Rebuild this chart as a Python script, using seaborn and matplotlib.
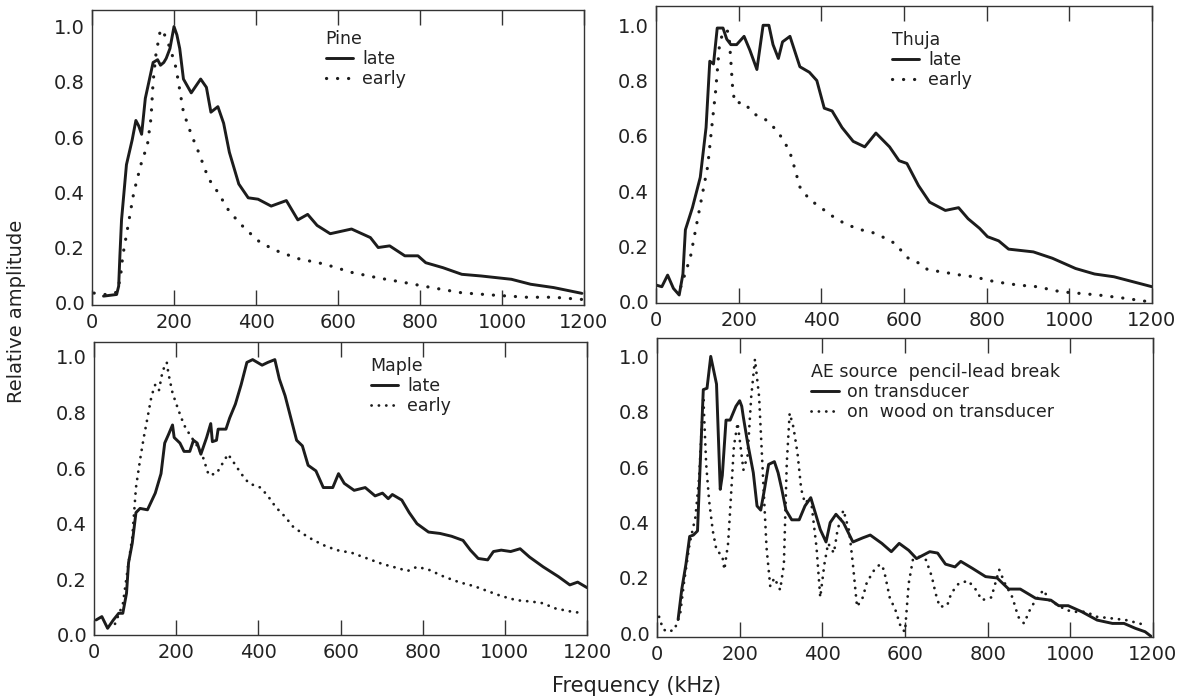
import seaborn as sns
import matplotlib.pyplot as plt
from matplotlib.lines import Line2D

# ---- data (frequency in kHz, relative amplitude) ----
pine_late_f = [28, 60, 65, 68, 72, 84, 98, 107, 114, 121, 130, 149, 160, 167, 175, 181, 190, 200, 207,
               214, 223, 242, 265, 279, 290, 307, 321, 335, 358, 381, 405, 437, 474, 502, 526, 549, 581,
               633, 679, 698, 726, 763, 795, 814, 856, 902, 949, 1023, 1070, 1126, 1195]
pine_late_a = [0.024, 0.03, 0.06, 0.17, 0.3, 0.5, 0.59, 0.66, 0.64, 0.61, 0.74, 0.87, 0.88, 0.86, 0.87,
               0.885, 0.92, 1.0, 0.97, 0.92, 0.81, 0.76, 0.81, 0.78, 0.69, 0.71, 0.65, 0.545, 0.43, 0.38,
               0.375, 0.35, 0.37, 0.30, 0.32, 0.28, 0.25, 0.267, 0.236, 0.20, 0.206, 0.17, 0.17, 0.145,
               0.127, 0.103, 0.097, 0.085, 0.067, 0.055, 0.034]
pine_early_f = [5, 28, 47, 62, 70, 75, 88, 102, 121, 135, 144, 149, 156, 167, 177, 191, 205, 223, 242,
                260, 284, 307, 335, 372, 409, 447, 502, 567, 633, 698, 763, 828, 902, 986, 1060, 1126, 1195]
pine_early_a = [0.035, 0.03, 0.03, 0.04, 0.1, 0.17, 0.28, 0.40, 0.51, 0.57, 0.67, 0.80, 0.90, 0.99, 0.97,
                0.92, 0.85, 0.69, 0.61, 0.545, 0.45, 0.40, 0.33, 0.27, 0.22, 0.19, 0.16, 0.14, 0.11, 0.09,
                0.073, 0.055, 0.036, 0.027, 0.02, 0.02, 0.012]

thuja_late_f = [0, 14, 28, 42, 56, 65, 71, 88, 107, 121, 130, 139, 148, 162, 171, 181, 195, 213, 227, 244,
                259, 273, 283, 296, 306, 324, 348, 371, 389, 407, 426, 450, 477, 505, 532, 565, 588, 607,
                635, 662, 700, 732, 755, 783, 802, 829, 853, 913, 959, 1015, 1061, 1108, 1154, 1200]
thuja_late_a = [0.06, 0.054, 0.096, 0.048, 0.024, 0.10, 0.26, 0.34, 0.45, 0.63, 0.87, 0.86, 0.99, 0.99,
                0.95, 0.93, 0.93, 0.96, 0.91, 0.84, 1.0, 1.0, 0.93, 0.88, 0.94, 0.96, 0.85, 0.83, 0.80,
                0.70, 0.69, 0.63, 0.58, 0.56, 0.61, 0.56, 0.51, 0.50, 0.42, 0.36, 0.33, 0.34, 0.30, 0.265,
                0.235, 0.22, 0.19, 0.18, 0.157, 0.12, 0.10, 0.09, 0.072, 0.054]
thuja_early_f = [60, 83, 102, 125, 134, 144, 153, 162, 171, 176, 181, 185, 190, 213, 236, 264, 292, 310,
                 324, 334, 348, 371, 399, 426, 459, 496, 524, 547, 579, 607, 635, 658, 690, 737, 769, 820,
                 876, 922, 978, 1024, 1070, 1135, 1191]
thuja_early_a = [0.054, 0.16, 0.31, 0.49, 0.62, 0.76, 0.92, 0.98, 0.98, 0.976, 0.87, 0.78, 0.72, 0.72,
                 0.68, 0.66, 0.62, 0.58, 0.54, 0.49, 0.415, 0.37, 0.34, 0.31, 0.28, 0.26, 0.25, 0.235,
                 0.21, 0.16, 0.14, 0.115, 0.108, 0.096, 0.09, 0.072, 0.06, 0.054, 0.036, 0.03, 0.024,
                 0.012, 0.0]

maple_late_f = [5, 19, 33, 47, 60, 70, 79, 84, 93, 102, 112, 130, 149, 163, 172, 181, 191, 195, 209, 219,
                233, 242, 251, 260, 274, 284, 288, 298, 302, 321, 330, 344, 358, 372, 386, 409, 423, 440,
                451, 465, 479, 493, 507, 521, 540, 558, 581, 595, 609, 633, 660, 684, 702, 716, 726, 749,
                767, 786, 814, 842, 870, 898, 916, 935, 958, 972, 991, 1014, 1037, 1060, 1093, 1130,
                1158, 1177, 1200]
maple_late_a = [0.054, 0.066, 0.024, 0.054, 0.078, 0.078, 0.15, 0.26, 0.33, 0.44, 0.455, 0.45, 0.51,
                0.58, 0.69, 0.72, 0.755, 0.71, 0.69, 0.66, 0.66, 0.70, 0.69, 0.65, 0.71, 0.76, 0.695,
                0.70, 0.74, 0.74, 0.78, 0.83, 0.90, 0.98, 0.99, 0.97, 0.98, 0.99, 0.92, 0.86, 0.78, 0.70,
                0.68, 0.61, 0.59, 0.53, 0.53, 0.58, 0.545, 0.52, 0.53, 0.50, 0.51, 0.49, 0.505, 0.485,
                0.44, 0.40, 0.37, 0.365, 0.355, 0.34, 0.305, 0.275, 0.27, 0.30, 0.305, 0.30, 0.31, 0.28,
                0.245, 0.21, 0.18, 0.19, 0.17]
maple_early_f = [51, 70, 84, 93, 102, 112, 121, 130, 140, 149, 158, 167, 177, 181, 191, 205, 219, 233,
                 251, 265, 279, 298, 312, 326, 340, 358, 377, 405, 423, 442, 465, 484, 507, 535, 563, 591,
                 628, 665, 702, 740, 763, 786, 814, 851, 888, 926, 963, 991, 1028, 1065, 1093, 1121,
                 1158, 1191]
maple_early_a = [0.04, 0.11, 0.26, 0.35, 0.53, 0.63, 0.71, 0.78, 0.86, 0.90, 0.88, 0.95, 0.98, 0.94,
                 0.87, 0.81, 0.755, 0.72, 0.68, 0.64, 0.575, 0.58, 0.615, 0.65, 0.62, 0.58, 0.545, 0.53,
                 0.50, 0.46, 0.425, 0.39, 0.365, 0.34, 0.32, 0.305, 0.295, 0.275, 0.255, 0.24, 0.23,
                 0.245, 0.235, 0.21, 0.19, 0.175, 0.155, 0.14, 0.125, 0.12, 0.114, 0.096, 0.085, 0.078]

ae_trans_f = [51, 60, 70, 79, 88, 98, 102, 112, 121, 130, 144, 153, 158, 167, 177, 191, 200, 205, 209,
              219, 233, 242, 251, 260, 270, 284, 293, 302, 312, 326, 344, 358, 372, 381, 395, 409, 419,
              433, 451, 474, 498, 516, 544, 567, 586, 609, 628, 660, 679, 698, 721, 735, 763, 795, 823,
              851, 879, 916, 953, 972, 995, 1028, 1065, 1102, 1130, 1158, 1181, 1195]
ae_trans_a = [0.05, 0.16, 0.25, 0.35, 0.355, 0.37, 0.52, 0.88, 0.885, 1.0, 0.90, 0.52, 0.57, 0.77, 0.77,
              0.82, 0.84, 0.82, 0.78, 0.69, 0.58, 0.46, 0.445, 0.52, 0.61, 0.62, 0.58, 0.52, 0.445, 0.41,
              0.41, 0.46, 0.49, 0.445, 0.375, 0.33, 0.40, 0.43, 0.40, 0.33, 0.345, 0.355, 0.325, 0.295,
              0.325, 0.30, 0.27, 0.295, 0.29, 0.25, 0.24, 0.26, 0.235, 0.205, 0.20, 0.16, 0.16, 0.127,
              0.12, 0.10, 0.10, 0.078, 0.048, 0.036, 0.036, 0.018, 0.006, -0.01]
ae_wood_f = [5, 14, 23, 42, 56, 65, 79, 93, 102, 112, 119, 126, 135, 144, 158, 163, 172, 177, 186, 195,
             205, 209, 219, 228, 237, 247, 256, 265, 274, 284, 298, 307, 314, 321, 330, 340, 349, 358,
             372, 386, 395, 405, 414, 428, 437, 451, 465, 474, 484, 498, 507, 516, 526, 540, 549, 563,
             577, 591, 600, 609, 619, 633, 651, 665, 674, 684, 702, 712, 730, 753, 772, 786, 809, 828,
             842, 860, 874, 888, 902, 912, 935, 949, 972, 991, 1009, 1037, 1065, 1102, 1135, 1167, 1181]
ae_wood_a = [0.06, 0.018, 0.006, 0.012, 0.07, 0.18, 0.325, 0.42, 0.565, 0.855, 0.61, 0.48, 0.37, 0.30,
             0.28, 0.23, 0.325, 0.445, 0.675, 0.76, 0.64, 0.59, 0.64, 0.855, 0.99, 0.855, 0.58, 0.31,
             0.17, 0.20, 0.157, 0.25, 0.615, 0.795, 0.745, 0.65, 0.52, 0.47, 0.49, 0.31, 0.13, 0.25,
             0.325, 0.29, 0.375, 0.445, 0.37, 0.25, 0.096, 0.13, 0.18, 0.205, 0.23, 0.25, 0.23, 0.13,
             0.084, 0.018, 0.006, 0.18, 0.265, 0.277, 0.265, 0.205, 0.145, 0.096, 0.10, 0.145, 0.18,
             0.19, 0.157, 0.12, 0.13, 0.23, 0.18, 0.13, 0.06, 0.036, 0.084, 0.11, 0.157, 0.12, 0.10,
             0.084, 0.078, 0.078, 0.06, 0.054, 0.048, 0.036, 0.03]

x_ticks = [0, 200, 400, 600, 800, 1000, 1200]
y_ticks = [0.0, 0.2, 0.4, 0.6, 0.8, 1.0]

INK = "#1c1c1c"
SOLID = dict(color=INK, linewidth=2.1, solid_capstyle="round")
DOTS = dict(color=INK, linewidth=2.3, linestyle=(0, (0.05, 3.4)), dash_capstyle="round")
FINE_DOTS = dict(color=INK, linewidth=2.0, linestyle=(0, (0.05, 2.6)), dash_capstyle="round")

sns.set_style("white")
plt.rcParams["font.family"] = ["DejaVu Sans"]
plt.rcParams["axes.edgecolor"] = "#333333"
plt.rcParams["axes.linewidth"] = 1.0
plt.rcParams["xtick.bottom"] = True
plt.rcParams["xtick.top"] = True
plt.rcParams["xtick.direction"] = "in"
plt.rcParams["xtick.major.size"] = 11
plt.rcParams["xtick.major.width"] = 1.0
plt.rcParams["xtick.color"] = "#333333"
plt.rcParams["ytick.left"] = False

fig = plt.figure(figsize=(11.95, 6.99), dpi=100)

panels = [
    # rect, ylim, series, legend title, labels, legend anchor
    ([0.077, 0.5637, 0.4117, 0.422], (-0.008, 1.06),
     [(pine_late_f, pine_late_a, SOLID), (pine_early_f, pine_early_a, DOTS)],
     "Pine", ["late", "early"], (0.475, 0.932)),
    ([0.549, 0.5665, 0.415, 0.425], (-0.005, 1.07),
     [(thuja_late_f, thuja_late_a, SOLID), (thuja_early_f, thuja_early_a, DOTS)],
     "Thuja", ["late", "early"], (0.475, 0.916)),
    ([0.0787, 0.0916, 0.4126, 0.419], (0.0, 1.053),
     [(maple_late_f, maple_late_a, SOLID), (maple_early_f, maple_early_a, FINE_DOTS)],
     "Maple", ["late", "early"], (0.561, 0.948)),
    ([0.5498, 0.0887, 0.415, 0.428], (-0.013, 1.067),
     [(ae_trans_f, ae_trans_a, SOLID), (ae_wood_f, ae_wood_a, FINE_DOTS)],
     "AE source  pencil-lead break", ["on transducer", "on  wood on transducer"], (0.31, 0.915)),
]

for rect, ylim, series, title, labels, anchor in panels:
    ax = fig.add_axes(rect)
    handles = []
    for f, a, st in series:
        sns.lineplot(x=f, y=a, ax=ax, sort=False, estimator=None, **st)
        handles.append(Line2D([], [], **st))
    ax.set_xlim(0, 1200)
    ax.set_ylim(*ylim)
    ax.set_xticks(x_ticks)
    ax.set_xticklabels([str(t) for t in x_ticks])
    ax.set_yticks(y_ticks)
    ax.set_yticklabels([f"{t:.1f}" for t in y_ticks])
    ax.tick_params(axis="x", which="major", direction="in", top=True, bottom=True, length=11,
                   width=1.0, color="#333333", pad=6, labelsize=14, labelcolor="#222222")
    ax.tick_params(axis="y", left=False, length=0, pad=5, labelsize=14, labelcolor="#222222")
    for s in ax.spines.values():
        s.set_visible(True)
    leg = ax.legend(handles, labels, title=title, loc="upper left", bbox_to_anchor=anchor,
                    frameon=False, fontsize=12.5, title_fontsize=12.5, alignment="left",
                    handlelength=1.6, handletextpad=0.5, labelspacing=0.12, borderaxespad=0,
                    borderpad=0)
    for t in leg.get_texts():
        t.set_color("#222222")
    leg.get_title().set_color("#222222")

fig.text(0.533, 0.0186, "Frequency (kHz)", ha="center", va="center", fontsize=15, color="#222222")
fig.text(0.014, 0.555, "Relative amplitude", ha="center", va="center", rotation=90,
         fontsize=14, color="#222222")

fig.savefig("out.png", dpi=100, facecolor="white")
